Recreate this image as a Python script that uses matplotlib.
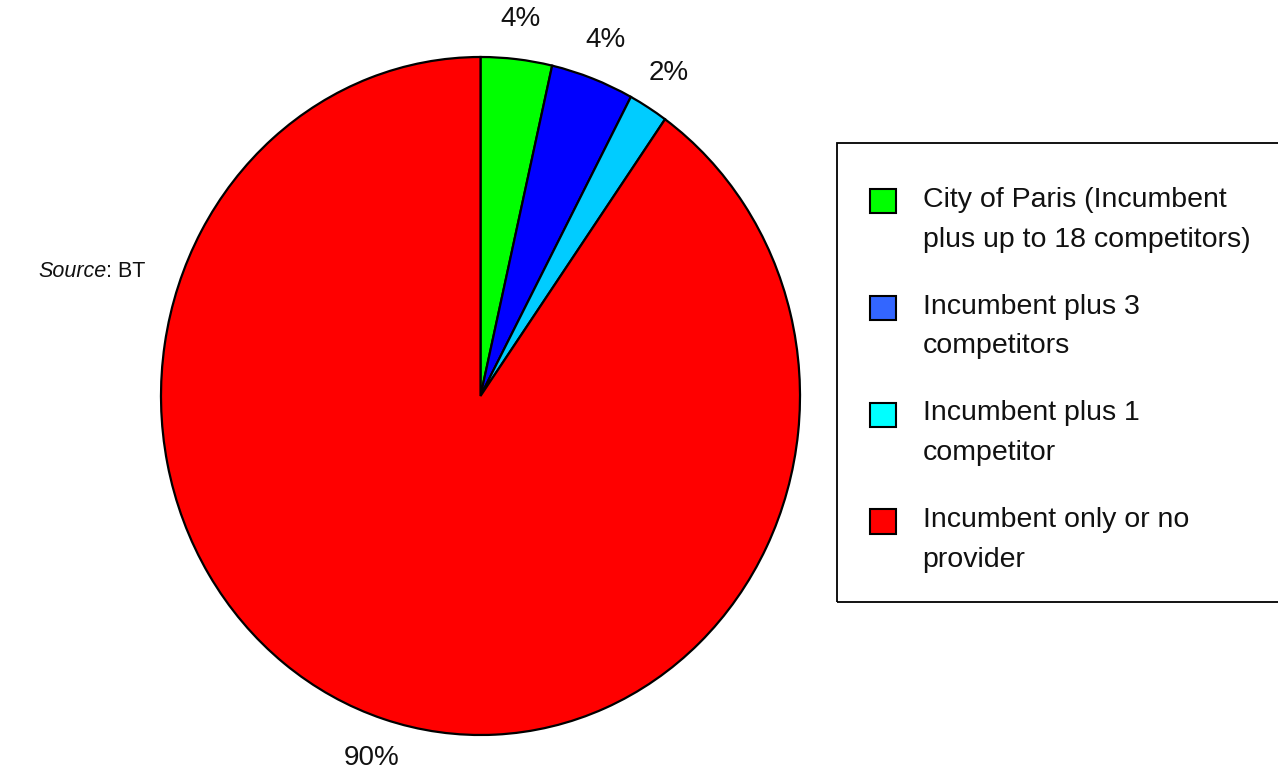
import matplotlib.pyplot as plt
from matplotlib.patches import Patch, Rectangle
from matplotlib.legend_handler import HandlerPatch

plt.rcParams["font.family"] = ["Liberation Sans", "DejaVu Sans"]

# Data
labels = ["City of Paris (Incumbent\nplus up to 18 competitors)",
          "Incumbent plus 3\ncompetitors",
          "Incumbent plus 1\ncompetitor",
          "Incumbent only or no\nprovider"]
shares = [3.6, 4.2, 2.0, 90.2]
pie_colors = ["#00FF00", "#0000FF", "#00CCFF", "#FF0000"]
legend_colors = ["#00FF00", "#3366FF", "#00FFFF", "#FF0000"]


fig = plt.figure(figsize=(12.78, 7.75), dpi=100)
W, H = 1278, 775
ax = fig.add_axes([161 / W, 1 - 735 / H, 639 / W, 678 / H])

wedges, texts, autotexts = ax.pie(
    shares, colors=pie_colors, startangle=90, counterclock=False,
    autopct="%.0f%%", pctdistance=1.12,
    wedgeprops=dict(edgecolor="black", linewidth=1.6),
    textprops=dict(fontsize=20, color="#111111"))
ax.set_aspect("auto")
ax.set_xlim(-1, 1)
ax.set_ylim(-1, 1)


# legend squares sit next to the first line of each label
def top_square(legend, orig_handle, xdescent, ydescent, width, height, fontsize):
    return Rectangle((-xdescent, -ydescent + 0.66 * fontsize), width, height)


# legend frame (runs off the right edge like the original)
fig.patches.append(Rectangle((837 / W, 1 - 602 / H), 460 / W, 459 / H,
                             transform=fig.transFigure, facecolor="none",
                             edgecolor="black", linewidth=1.3))

handles = [Patch(facecolor=c, edgecolor="black", linewidth=1.5) for c in legend_colors]
leg = fig.legend(handles, labels, loc="upper left",
                 bbox_to_anchor=(870 / W, 1 - 187 / H),
                 fontsize=20.5, frameon=False,
                 borderpad=0, handlelength=0.9, handleheight=0.93,
                 handletextpad=0.95, labelspacing=1.445, borderaxespad=0,
                 handler_map={Patch: HandlerPatch(patch_func=top_square)})
for t in leg.get_texts():
    t.set_linespacing(1.68)
    t.set_color("#111111")

# Source note
t1 = fig.text(38 / W, 1 - 277 / H, "Source", fontsize=15.5, style="italic",
              color="#111111", va="baseline")
ax.annotate(": BT", xy=(1, 0), xycoords=t1, va="bottom", fontsize=15.5,
            color="#111111")

fig.savefig("out.png", dpi=100)
